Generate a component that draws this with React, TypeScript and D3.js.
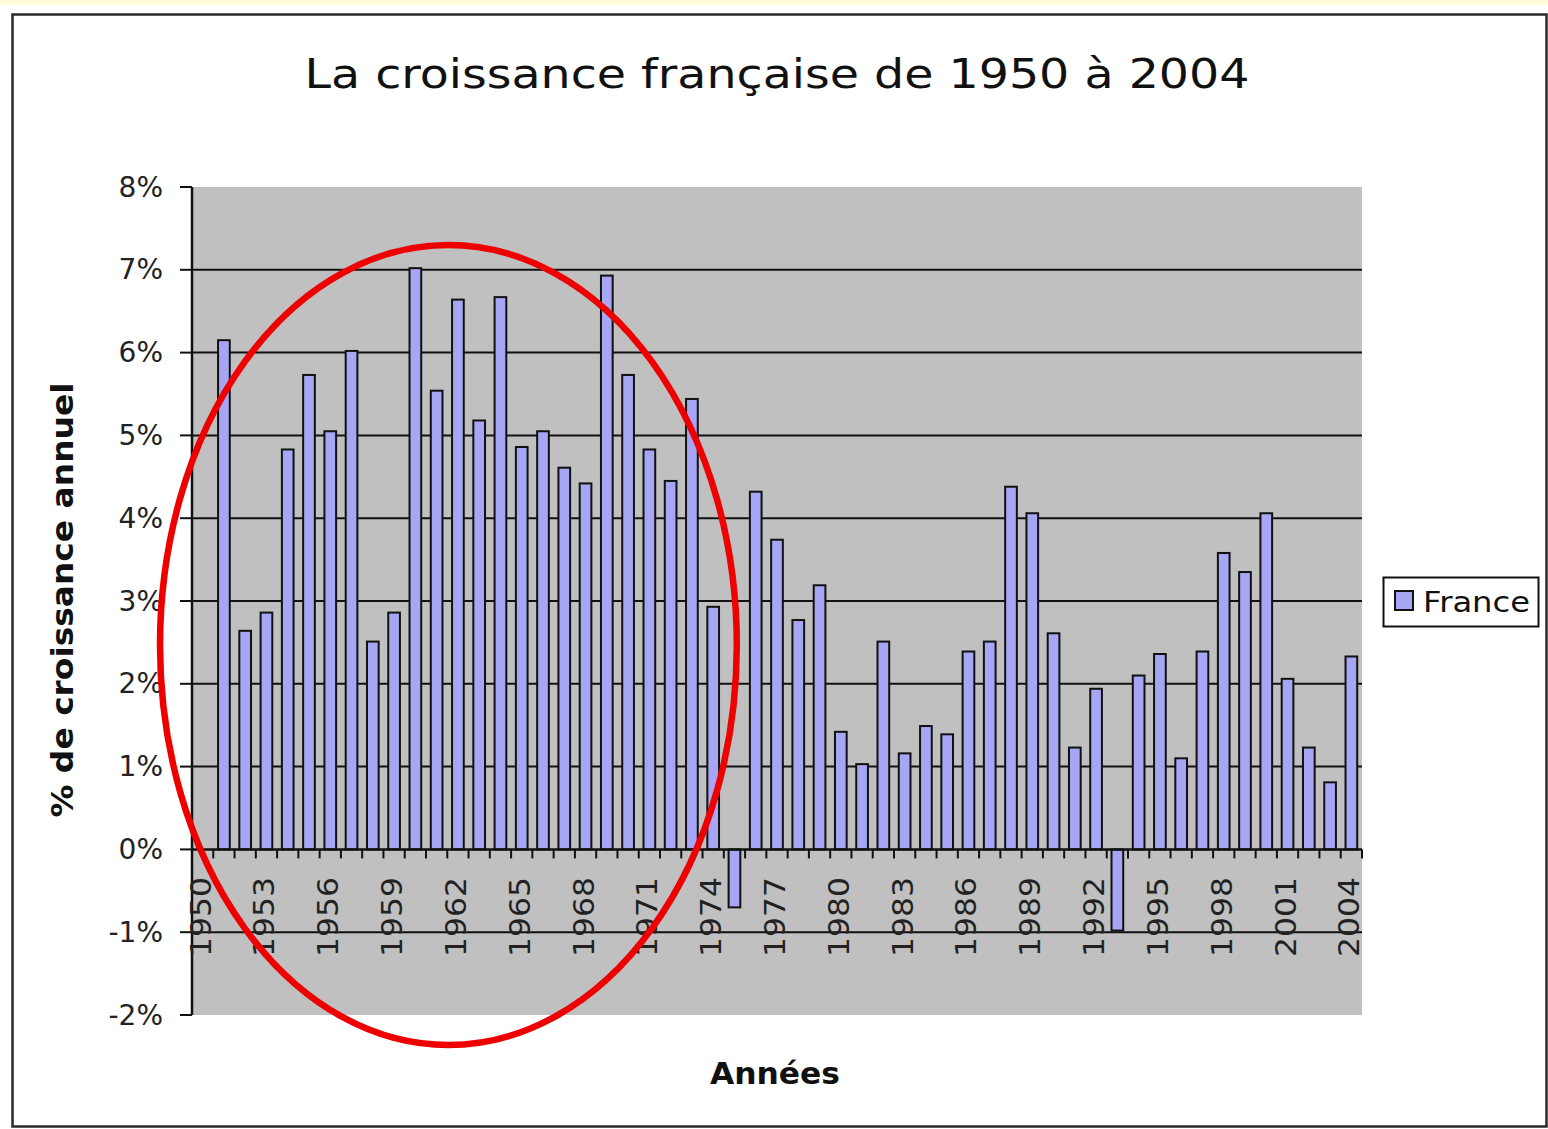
import React from "react";
import * as d3 from "d3";

const years: number[] = d3.range(1950, 2005);
const growth: (number | null)[] = [
  null, 6.15, 2.64, 2.86, 4.83, 5.73, 5.05, 6.02, 2.51, 2.86,
  7.02, 5.54, 6.64, 5.18, 6.67, 4.86, 5.05, 4.61, 4.42, 6.93,
  5.73, 4.83, 4.45, 5.44, 2.93, -0.7, 4.32, 3.74, 2.77, 3.19,
  1.42, 1.03, 2.51, 1.16, 1.49, 1.39, 2.39, 2.51, 4.38, 4.06,
  2.61, 1.23, 1.94, -0.98, 2.1, 2.36, 1.1, 2.39, 3.58, 3.35,
  4.06, 2.06, 1.23, 0.81, 2.33,
];
const yTicks: number[] = [8, 7, 6, 5, 4, 3, 2, 1, 0, -1, -2];
const labelYears: number[] = d3.range(1950, 2005, 3);
const title = "La croissance française de 1950 à 2004";
const yTitle = "% de croissance annuel";
const xTitle = "Années";
const seriesName = "France";
// highlighted period (red ellipse annotation): 1950 - 1974
const highlight: [number, number] = [1950, 1974];

const W = 1548;
const H = 1129;
const plot = { left: 192, right: 1362, top: 187, bottom: 1015 };
const barFill = "#a6a6f4";
const font = "'DejaVu Sans', Verdana, sans-serif";

export default function App() {
  const x = d3
    .scaleBand<number>()
    .domain(years)
    .range([plot.left, plot.right])
    .padding(0);
  const y = d3.scaleLinear().domain([-2, 8]).range([plot.bottom, plot.top]);
  const step = x.step();
  const bw = step * 0.55;
  const y0 = y(0);

  const ex1 = (x(highlight[0]) as number) - 32;
  const ex2 = (x(highlight[1]) as number) + step + 13;
  const ecx = (ex1 + ex2) / 2;
  const erx = (ex2 - ex1) / 2;
  const ecy = 645;
  const ery = 400;

  return (
    <svg
      width={W}
      height={H}
      style={{ position: "absolute", left: 0, top: 0, display: "block" }}
    >
      <rect x={0} y={0} width={W} height={H} fill="#ffffff" />
      <rect x={0} y={0} width={W} height={5} fill="#fffbd8" />
      <rect
        x={12.5}
        y={14.5}
        width={1534}
        height={1112}
        fill="#ffffff"
        stroke="#2a2a2a"
        strokeWidth={2.5}
      />

      <text
        x={777}
        y={88}
        textAnchor="middle"
        fontFamily={font}
        fontSize={41}
        textLength={945}
        lengthAdjust="spacingAndGlyphs"
        fill="#111"
      >
        {title}
      </text>

      {/* plot background */}
      <rect
        x={plot.left}
        y={plot.top}
        width={plot.right - plot.left}
        height={plot.bottom - plot.top}
        fill="#c0c0c0"
      />

      {/* gridlines */}
      {yTicks
        .filter((t) => t !== 8 && t !== -2 && t !== 0)
        .map((t) => (
          <line
            key={"g" + t}
            x1={plot.left}
            x2={plot.right}
            y1={y(t)}
            y2={y(t)}
            stroke="#111"
            strokeWidth={2}
          />
        ))}

      {/* bars */}
      {years.map((yr, i) => {
        const v = growth[i];
        if (v === null) return null;
        const cx = (x(yr) as number) + step / 2;
        const top = Math.min(y(v), y0);
        const h = Math.abs(y(v) - y0);
        return (
          <rect
            key={"b" + yr}
            x={cx - bw / 2}
            y={top}
            width={bw}
            height={h}
            fill={barFill}
            stroke="#111"
            strokeWidth={2}
          />
        );
      })}

      {/* y axis */}
      <line
        x1={plot.left}
        x2={plot.left}
        y1={plot.top}
        y2={plot.bottom}
        stroke="#111"
        strokeWidth={2.5}
      />
      {yTicks.map((t) => (
        <g key={"yt" + t}>
          <line
            x1={plot.left - 12}
            x2={plot.left}
            y1={y(t)}
            y2={y(t)}
            stroke="#111"
            strokeWidth={2}
          />
          <text
            x={163}
            y={y(t)}
            textAnchor="end"
            dominantBaseline="central"
            fontFamily={font}
            fontSize={28}
            fill="#222"
          >
            {(t < 0 ? "-" : "") + Math.abs(t) + "%"}
          </text>
        </g>
      ))}

      {/* x axis at 0 */}
      <line
        x1={plot.left}
        x2={plot.right}
        y1={y0}
        y2={y0}
        stroke="#111"
        strokeWidth={2.5}
      />
      {years.map((yr) => (
        <line
          key={"xt" + yr}
          x1={(x(yr) as number) + step}
          x2={(x(yr) as number) + step}
          y1={y0}
          y2={y0 + 9}
          stroke="#111"
          strokeWidth={2}
        />
      ))}
      {labelYears.map((yr) => {
        const cx = (x(yr) as number) + step / 2 + 8;
        const ty = 877;
        return (
          <text
            key={"xl" + yr}
            x={cx}
            y={ty}
            transform={`rotate(-90, ${cx}, ${ty})`}
            textAnchor="end"
            fontFamily={font}
            fontSize={28}
            textLength={80}
            lengthAdjust="spacingAndGlyphs"
            fill="#222"
          >
            {yr}
          </text>
        );
      })}

      {/* axis titles */}
      <text
        x={73}
        y={600}
        transform="rotate(-90, 73, 600)"
        textAnchor="middle"
        fontFamily={font}
        fontWeight="bold"
        fontSize={30}
        textLength={435}
        lengthAdjust="spacingAndGlyphs"
        fill="#111"
      >
        {yTitle}
      </text>
      <text
        x={775}
        y={1084}
        textAnchor="middle"
        fontFamily={font}
        fontWeight="bold"
        fontSize={30}
        textLength={130}
        lengthAdjust="spacingAndGlyphs"
        fill="#111"
      >
        {xTitle}
      </text>

      {/* legend */}
      <rect
        x={1383.5}
        y={577.5}
        width={155}
        height={49}
        fill="#ffffff"
        stroke="#111"
        strokeWidth={2}
      />
      <rect
        x={1395}
        y={591}
        width={18}
        height={19}
        fill={barFill}
        stroke="#111"
        strokeWidth={2}
      />
      <text
        x={1423}
        y={612}
        fontFamily={font}
        fontSize={28}
        textLength={107}
        lengthAdjust="spacingAndGlyphs"
        fill="#111"
      >
        {seriesName}
      </text>

      {/* red ellipse annotation */}
      <ellipse
        cx={ecx}
        cy={ecy}
        rx={erx}
        ry={ery}
        fill="none"
        stroke="#ee0000"
        strokeWidth={6.5}
      />
    </svg>
  );
}
